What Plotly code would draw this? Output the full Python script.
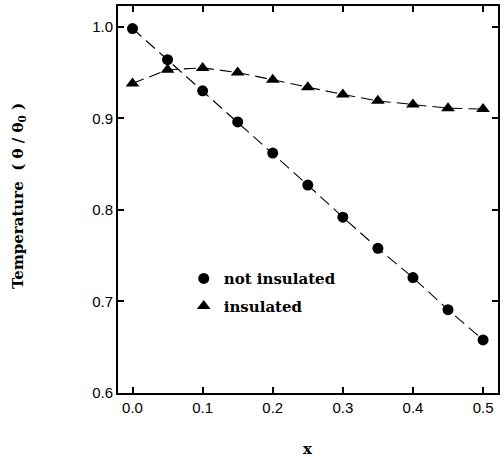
import plotly.graph_objects as go

x_vals = [0.0, 0.05, 0.1, 0.15, 0.2, 0.25, 0.3, 0.35, 0.4, 0.45, 0.5]
not_insulated = [0.998, 0.964, 0.930, 0.896, 0.862, 0.827, 0.792, 0.758, 0.726, 0.691, 0.658]
insulated = [0.938, 0.953, 0.955, 0.950, 0.942, 0.934, 0.926, 0.919, 0.915, 0.911, 0.910]
x_ticks = [0.0, 0.1, 0.2, 0.3, 0.4, 0.5]
x_tick_labels = ["0.0", "0.1", "0.2", "0.3", "0.4", "0.5"]
y_ticks = [0.6, 0.7, 0.8, 0.9, 1.0]
y_tick_labels = ["0.6", "0.7", "0.8", "0.9", "1.0"]
series_names = ["not insulated", "insulated"]

label_font = dict(family="DejaVu Serif", size=15, color="black")

fig = go.Figure()
fig.add_trace(go.Scatter(x=x_vals, y=not_insulated, mode="lines+markers",
                         line=dict(color="black", width=1.1, dash="12px,6px"),
                         marker=dict(symbol="circle", size=11, color="black"),
                         showlegend=False))
fig.add_trace(go.Scatter(x=x_vals, y=insulated, mode="lines+markers",
                         line=dict(color="black", width=1.1, dash="12px,6px"),
                         marker=dict(symbol="triangle-up", size=12, color="black"),
                         showlegend=False))
# legend entries (markers only)
fig.add_trace(go.Scatter(x=[None], y=[None], mode="markers", name=series_names[0],
                         legendgroup="a",
                         marker=dict(symbol="circle", size=11, color="black")))
fig.add_trace(go.Scatter(x=[None], y=[None], mode="markers", name=series_names[1],
                         legendgroup="b",
                         marker=dict(symbol="triangle-up", size=12, color="black")))

fig.update_layout(
    width=504, height=457,
    margin=dict(l=118, r=4, t=6, b=64),
    paper_bgcolor="white", plot_bgcolor="white",
    legend=dict(x=0.173, y=0.338, xanchor="left", yanchor="top",
                font=dict(family="DejaVu Serif", size=15, color="black", weight="bold"),
                bgcolor="rgba(0,0,0,0)", itemwidth=30, traceorder="grouped",
                tracegroupgap=5),
    annotations=[
        dict(text="<b>Temperature  ( θ / θ<sub>0</sub> )</b>", xref="paper", yref="paper",
             x=-0.262, y=0.51, textangle=-90, showarrow=False,
             font=label_font, xanchor="center", yanchor="middle"),
        dict(text="<b>x</b>", xref="paper", yref="paper", x=0.5, y=-0.145,
             showarrow=False, font=dict(family="DejaVu Serif", size=15, color="black"),
             xanchor="center", yanchor="middle"),
    ],
)
fig.update_xaxes(range=[-0.0207, 0.5213], tickvals=x_ticks, ticktext=x_tick_labels,
                 ticks="inside", ticklen=6, tickwidth=1.5, tickcolor="black",
                 showline=True, linecolor="black", linewidth=2, mirror="ticks",
                 showgrid=False, zeroline=False,
                 tickfont=dict(family="Liberation Sans", size=15, color="black"))
fig.update_yaxes(range=[0.6, 1.0226], tickvals=y_ticks, ticktext=y_tick_labels,
                 ticks="inside", ticklen=6, tickwidth=1.5, tickcolor="black",
                 showline=True, linecolor="black", linewidth=2, mirror="ticks",
                 showgrid=False, zeroline=False,
                 tickfont=dict(family="Liberation Sans", size=15, color="black"))

fig.write_html("out.html")
